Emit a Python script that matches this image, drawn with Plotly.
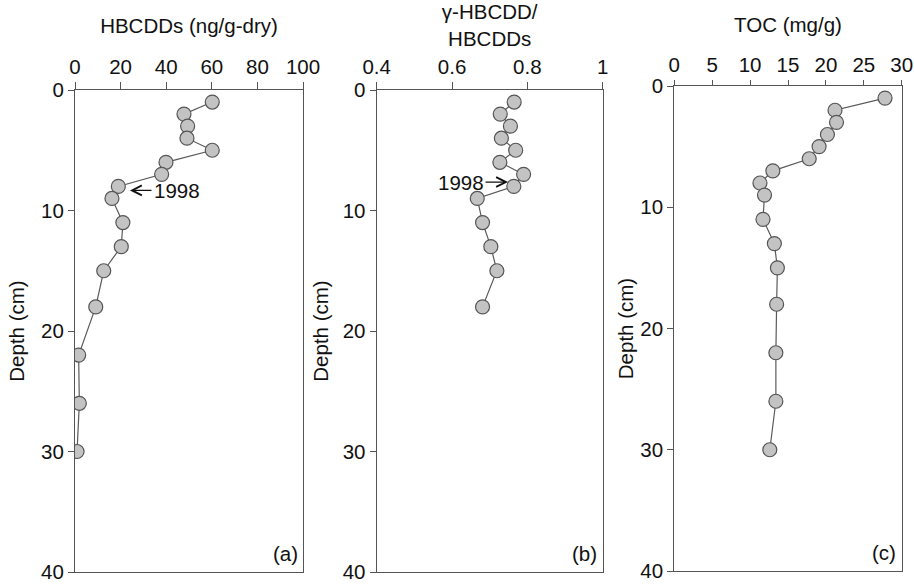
import plotly.graph_objects as go
from plotly.subplots import make_subplots

# Data
depth_a = [1, 2, 3, 4, 5, 6, 7, 8, 9, 11, 13, 15, 18, 22, 26, 30]
hbcdds = [60.2, 47.8, 49.4, 49.1, 60.2, 39.9, 38.0, 19.0, 16.2, 21.0, 20.3, 12.6, 9.1, 1.6, 1.9, 0.9]

depth_b = [1, 2, 3, 4, 5, 6, 7, 8, 9, 11, 13, 15, 18]
gamma_ratio = [0.765, 0.728, 0.755, 0.731, 0.769, 0.727, 0.790, 0.764, 0.667, 0.681, 0.703, 0.719, 0.681]

depth_c = [1, 2, 3, 4, 5, 6, 7, 8, 9, 11, 13, 15, 18, 22, 26, 30]
toc = [27.8, 21.2, 21.4, 20.2, 19.1, 17.8, 13.0, 11.3, 11.9, 11.7, 13.2, 13.6, 13.5, 13.4, 13.4, 12.6]

x_titles = ["HBCDDs (ng/g-dry)", "γ-HBCDD/<br>HBCDDs", "TOC (mg/g)"]
x_ranges = [[0, 100], [0.4, 1.0], [0, 30]]
x_dticks = [20, 0.2, 5]
panel_labels = ["(a)", "(b)", "(c)"]
y_title = "Depth (cm)"
year_label = "1998"

W, H = 914, 585
FONT = "Liberation Sans, Arial, sans-serif"
AX = "#555555"
TXT = "#111111"
FS = 20.5

fig = make_subplots(rows=1, cols=3)

series = [(hbcdds, depth_a), (gamma_ratio, depth_b), (toc, depth_c)]
for i, (xv, yv) in enumerate(series, start=1):
    fig.add_trace(go.Scatter(
        x=xv, y=yv, mode="lines+markers",
        line=dict(color="#5a5a5a", width=1.2),
        marker=dict(size=14, color="#c3c3c3", line=dict(color="#555555", width=1.2)),
        showlegend=False), row=1, col=i)

# layout geometry (pixels)
xdom_px = [(75, 303), (376.7, 602.7), (674.3, 901.7)]
ydom_px = [(90, 572), (90, 572), (86, 571)]
x_standoff = [15, 20, 14]
x_ticklen = [7, 7, 5]
y_standoff = [10, 8, 1]

for i in range(3):
    xa = "xaxis" if i == 0 else f"xaxis{i+1}"
    ya = "yaxis" if i == 0 else f"yaxis{i+1}"
    x0, x1 = xdom_px[i]
    yt, yb = ydom_px[i]
    fig.layout[xa].update(
        domain=[x0 / W, x1 / W], range=x_ranges[i], dtick=x_dticks[i], tick0=0,
        side="top", showline=True, linecolor=AX, linewidth=1.2, mirror=True,
        ticks="outside", ticklen=x_ticklen[i], tickcolor=AX, showgrid=False, zeroline=False,
        automargin=False,
        tickfont=dict(family=FONT, size=FS, color=TXT),
        title=dict(text=x_titles[i], font=dict(family=FONT, size=FS, color=TXT),
                   standoff=x_standoff[i]),
        fixedrange=True)
    fig.layout[ya].update(
        domain=[1 - yb / H, 1 - yt / H], range=[40, 0], dtick=10,
        showline=True, linecolor=AX, linewidth=1.2, mirror=True,
        ticks="outside", ticklen=6, tickcolor=AX, showgrid=False, zeroline=False,
        automargin=False,
        tickfont=dict(family=FONT, size=FS, color=TXT),
        title=dict(text=y_title, font=dict(family=FONT, size=FS, color=TXT),
                   standoff=y_standoff[i]),
        fixedrange=True)
    fig.add_annotation(text=panel_labels[i], xref=f"x{'' if i == 0 else i+1} domain",
                       yref=f"y{'' if i == 0 else i+1} domain", x=0.985, y=0.01,
                       xanchor="right", yanchor="bottom", showarrow=False,
                       font=dict(family=FONT, size=FS, color=TXT))

# 1998 markers: arrow + year text
arrow_style = dict(showarrow=True, arrowhead=5, arrowsize=1.6, arrowwidth=1.2,
                   arrowcolor=TXT, standoff=0, startstandoff=0, text="")
fig.add_annotation(x=24.1, y=8.33, ax=34.2, ay=8.33, xref="x", yref="y",
                   axref="x", ayref="y", **arrow_style)
fig.add_annotation(text=year_label, x=44.7, y=8.33, xref="x", yref="y", showarrow=False,
                   font=dict(family=FONT, size=FS, color=TXT))
fig.add_annotation(x=0.7487, y=7.64, ax=0.685, ay=7.64, xref="x2", yref="y2",
                   axref="x2", ayref="y2", **arrow_style)
fig.add_annotation(text=year_label, x=0.6235, y=7.64, xref="x2", yref="y2", showarrow=False,
                   font=dict(family=FONT, size=FS, color=TXT))

fig.update_layout(width=W, height=H, margin=dict(l=0, r=0, t=0, b=0),
                  template="none",
                  paper_bgcolor="white", plot_bgcolor="white",
                  font=dict(family=FONT, size=FS, color=TXT))

fig.write_html("out.html", config={"displayModeBar": False},
               post_script="document.body.style.margin='0';")
